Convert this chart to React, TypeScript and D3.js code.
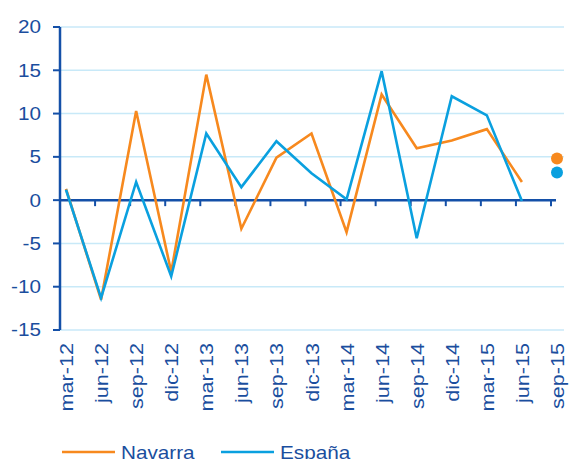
import { useEffect, useRef } from "react";
import { scaleLinear, scalePoint, select, line } from "d3";

const categories = [
  "mar-12", "jun-12", "sep-12", "dic-12",
  "mar-13", "jun-13", "sep-13", "dic-13",
  "mar-14", "jun-14", "sep-14", "dic-14",
  "mar-15", "jun-15", "sep-15",
];
// last value (sep-15) is drawn as a dot only
const navarra = [1.3, -11.5, 10.3, -8.3, 14.5, -3.3, 4.9, 7.7, -3.7, 12.2, 6.0, 6.9, 8.2, 2.1, 4.8];
const espana = [1.2, -11.3, 2.1, -8.8, 7.7, 1.5, 6.8, 3.1, 0.1, 14.9, -4.4, 12.0, 9.8, -0.1, 3.2];
const yTicks = [-15, -10, -5, 0, 5, 10, 15, 20];

const ORANGE = "#F7891E";
const BLUE = "#0AA0DF";
const AXIS = "#1450A8";
const TEXT = "#1A4E9E";
const GRID = "#C8E9F8";
const FONT = "'Liberation Sans', Arial, sans-serif";

function Chart() {
  const ref = useRef<SVGSVGElement>(null);

  useEffect(() => {
    const svg = select(ref.current);
    svg.selectAll("*").remove();

    const x = scalePoint<string>().domain(categories).range([66, 557]);
    const y = scaleLinear().domain([-15, 20]).range([330, 27]);
    const left = 60;
    const right = 564;

    // gridlines
    svg.append("g")
      .selectAll("line")
      .data(yTicks.filter((t) => t !== 0))
      .join("line")
      .attr("x1", left).attr("x2", right)
      .attr("y1", (d) => y(d)).attr("y2", (d) => y(d))
      .attr("stroke", GRID).attr("stroke-width", 1.5);

    // y axis
    svg.append("line")
      .attr("x1", left).attr("x2", left)
      .attr("y1", y(20)).attr("y2", y(-15))
      .attr("stroke", AXIS).attr("stroke-width", 2.5);
    svg.append("g")
      .selectAll("line")
      .data(yTicks)
      .join("line")
      .attr("x1", left - 7).attr("x2", left)
      .attr("y1", (d) => y(d)).attr("y2", (d) => y(d))
      .attr("stroke", AXIS).attr("stroke-width", 2);
    svg.append("g")
      .selectAll("text")
      .data(yTicks)
      .join("text")
      .attr("transform", (d) => `translate(41,${y(d)}) scale(1.15,1)`)
      .attr("dy", "0.36em")
      .attr("text-anchor", "end")
      .attr("font-family", FONT)
      .attr("font-size", 18)
      .attr("fill", TEXT)
      .text((d) => d);

    // zero axis
    svg.append("line")
      .attr("x1", left).attr("x2", 556)
      .attr("y1", y(0)).attr("y2", y(0))
      .attr("stroke", AXIS).attr("stroke-width", 2.5);
    svg.append("g")
      .selectAll("line")
      .data(categories.slice(1))
      .join("line")
      .attr("x1", (d) => (x(d) as number) - 6)
      .attr("x2", (d) => (x(d) as number) - 6)
      .attr("y1", y(0)).attr("y2", y(0) + 6)
      .attr("stroke", AXIS).attr("stroke-width", 2);

    // x labels
    svg.append("g")
      .selectAll("text")
      .data(categories)
      .join("text")
      .attr("transform", (d) => `translate(${(x(d) as number) + 7},343) rotate(-90) scale(1.2,1)`)
      .attr("text-anchor", "end")
      .attr("font-family", FONT)
      .attr("font-size", 18)
      .attr("fill", TEXT)
      .text((d) => d);

    // lines
    const gen = line<number>()
      .x((_, i) => x(categories[i]) as number)
      .y((d) => y(d));
    const series = [
      { values: navarra, color: ORANGE },
      { values: espana, color: BLUE },
    ];
    series.forEach((s) => {
      svg.append("path")
        .attr("d", gen(s.values.slice(0, -1)))
        .attr("fill", "none")
        .attr("stroke", s.color)
        .attr("stroke-width", 2.6)
        .attr("stroke-linejoin", "miter");
      svg.append("circle")
        .attr("cx", x(categories[categories.length - 1]) as number)
        .attr("cy", y(s.values[s.values.length - 1]))
        .attr("r", 6)
        .attr("fill", s.color);
    });

    // legend
    const legend = [
      { name: "Navarra", color: ORANGE, x: 62 },
      { name: "España", color: BLUE, x: 221 },
    ];
    const lg = svg.append("g")
      .selectAll("g")
      .data(legend)
      .join("g")
      .attr("transform", (d) => `translate(${d.x},452)`);
    lg.append("line")
      .attr("x1", 0).attr("x2", 53)
      .attr("stroke", (d) => d.color)
      .attr("stroke-width", 2.6);
    lg.append("text")
      .attr("transform", "translate(59,7) scale(1.15,1)")
      .attr("font-family", FONT)
      .attr("font-size", 18)
      .attr("fill", TEXT)
      .text((d) => d.name);
  }, []);

  return (
    <svg
      ref={ref}
      width={571}
      height={459}
      style={{ position: "fixed", left: 0, top: 0, background: "#fff" }}
    />
  );
}

export default function App() {
  return <Chart />;
}
